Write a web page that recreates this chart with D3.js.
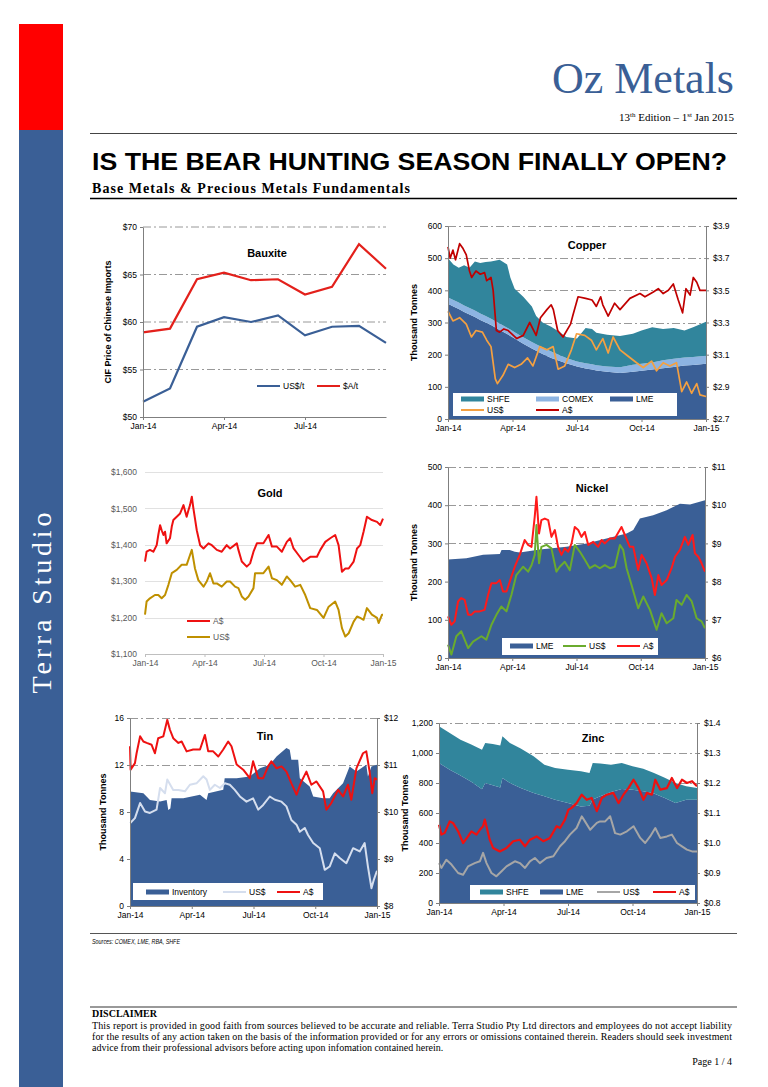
<!DOCTYPE html>
<html>
<head>
<meta charset="utf-8">
<script src="https://cdn.jsdelivr.net/npm/d3@7"></script>
<style>
body { margin: 0; background: #fff; }
svg { display: block; }
text { font-family: "Liberation Sans", Arial, sans-serif; }
.serif { font-family: "Liberation Serif", "Times New Roman", serif; }
</style>
</head>
<body>
<svg id="page" width="768" height="1087"></svg>
<script>
// ---- data ----
var xLabels = ["Jan-14", "Apr-14", "Jul-14", "Oct-14", "Jan-15"];

var bauxiteMonths = ["Jan-14","Feb-14","Mar-14","Apr-14","May-14","Jun-14","Jul-14","Aug-14","Sep-14","Oct-14"];
var bauxiteUsd = [51.6, 53.0, 59.5, 60.5, 60.0, 60.7, 58.6, 59.5, 59.6, 57.8];
var bauxiteAud = [58.9, 59.3, 64.5, 65.2, 64.4, 64.5, 62.9, 63.7, 68.2, 65.6];

// copper stocks, thousand tonnes, by month (0 = Jan-14)
var copperStockT = [0,0.25,0.5,0.75,1,1.25,1.5,1.75,2,2.4,2.75,2.9,3.1,3.5,3.9,4.1,4.4,4.8,5.2,5.5,6,6.4,6.7,6.9,7.4,8,8.6,9,9.5,10,10.5,11,11.4,12];
var copperLme = [358,350,342,333,325,317,308,300,292,277,264,258,250,234,219,212,202,190,180,173,163,157,154,151,147,143,147,150,154,158,162,166,168,172];
var copperComex = [20,20,20,20,20,20,20,20,20,20,20,20,20,20,20,20,20,20,18,17,16,16,16,16,16,18,22,22,22,25,25,25,25,25];
var copperShfe = [122,110,108,125,125,153,157,168,178,198,196,162,135,126,111,88,78,77,72,65,71,110,110,101,99,97,96,103,109,97,96,84,92,105];
var copperAud = [[0,3.77],[0.1,3.70],[0.23,3.75],[0.35,3.69],[0.54,3.79],[0.7,3.76],[0.85,3.72],[1.0,3.62],[1.1,3.58],[1.3,3.62],[1.5,3.60],[1.7,3.61],[1.8,3.56],[2.0,3.58],[2.1,3.50],[2.25,3.25],[2.4,3.24],[2.6,3.26],[2.8,3.25],[3.2,3.20],[3.5,3.22],[3.8,3.30],[4.1,3.22],[4.3,3.33],[4.6,3.38],[4.8,3.41],[4.9,3.38],[5.1,3.25],[5.35,3.21],[5.7,3.29],[5.8,3.34],[6.05,3.46],[6.4,3.45],[6.7,3.44],[6.9,3.40],[7.1,3.46],[7.2,3.41],[7.45,3.34],[7.75,3.42],[8.0,3.38],[8.46,3.45],[8.93,3.48],[9.16,3.46],[9.55,3.49],[9.78,3.51],[10.01,3.48],[10.25,3.50],[10.48,3.54],[10.71,3.44],[10.91,3.36],[11.07,3.51],[11.26,3.47],[11.41,3.58],[11.57,3.55],[11.72,3.50],[12,3.50]];
var copperUsd = [[0,3.37],[0.23,3.31],[0.54,3.33],[0.85,3.29],[1.09,3.21],[1.3,3.25],[1.6,3.24],[1.8,3.19],[2.0,3.15],[2.2,2.95],[2.3,2.92],[2.55,2.97],[2.8,3.04],[3.1,3.02],[3.4,3.04],[3.7,3.08],[3.95,3.03],[4.27,3.15],[4.6,3.13],[4.89,3.15],[5.12,3.01],[5.43,3.03],[5.74,3.13],[5.98,3.23],[6.36,3.22],[6.67,3.19],[6.9,3.13],[7.2,3.20],[7.45,3.11],[7.68,3.21],[8.0,3.13],[8.38,3.09],[8.77,3.05],[9.08,3.02],[9.47,3.06],[9.7,3.00],[10.01,3.05],[10.32,3.03],[10.63,3.05],[10.87,2.87],[11.1,2.93],[11.33,2.86],[11.57,2.92],[11.72,2.85],[12,2.84]];

var goldAud = [[0,1354],[0.08,1381],[0.25,1386],[0.42,1381],[0.59,1399],[0.67,1427],[0.76,1454],[0.84,1440],[0.93,1427],[1.01,1436],[1.09,1404],[1.26,1418],[1.35,1450],[1.43,1468],[1.6,1477],[1.77,1486],[1.94,1509],[2.1,1477],[2.19,1495],[2.27,1509],[2.36,1532],[2.44,1500],[2.52,1472],[2.61,1440],[2.78,1399],[2.95,1390],[3.2,1404],[3.37,1399],[3.62,1386],[3.87,1381],[4.12,1399],[4.29,1390],[4.63,1404],[4.71,1386],[4.88,1354],[5.13,1340],[5.3,1349],[5.47,1381],[5.64,1404],[5.97,1404],[6.23,1427],[6.4,1395],[6.65,1395],[6.9,1381],[7.15,1408],[7.32,1418],[7.49,1390],[7.74,1372],[7.99,1354],[8.33,1367],[8.67,1367],[8.84,1386],[9.09,1408],[9.34,1418],[9.59,1427],[9.76,1399],[9.93,1326],[10.1,1335],[10.27,1335],[10.52,1354],[10.69,1390],[10.85,1399],[11.02,1436],[11.19,1477],[11.44,1468],[11.7,1463],[11.86,1454],[12,1472]];
var goldUsd = [[0,1208],[0.08,1244],[0.25,1253],[0.5,1262],[0.67,1262],[0.84,1253],[1.01,1262],[1.18,1290],[1.35,1322],[1.6,1331],[1.85,1345],[2.1,1345],[2.27,1372],[2.36,1386],[2.52,1335],[2.69,1303],[2.95,1285],[3.11,1299],[3.28,1322],[3.45,1294],[3.62,1294],[3.87,1285],[4.12,1299],[4.29,1299],[4.54,1285],[4.71,1281],[4.88,1258],[5.05,1249],[5.22,1258],[5.47,1281],[5.55,1322],[5.81,1322],[5.97,1322],[6.23,1340],[6.4,1308],[6.65,1303],[6.9,1290],[7.15,1313],[7.32,1303],[7.57,1285],[7.83,1290],[8.08,1262],[8.33,1226],[8.67,1221],[9.0,1199],[9.26,1230],[9.59,1244],[9.76,1221],[9.93,1171],[10.1,1148],[10.27,1157],[10.52,1189],[10.69,1203],[10.85,1199],[11.02,1194],[11.19,1226],[11.44,1208],[11.7,1199],[11.78,1185],[11.95,1208],[12,1208]];

var nickelStockT = [0,0.86,1.64,2.42,2.5,2.88,3.12,3.35,4.29,5.53,6.47,7.4,8.34,8.65,8.96,9.58,10.21,10.83,11.3,12];
var nickelLme = [258,261,270,272,283,283,278,276,284,291,300,313,326,335,365,374,387,404,402,413];
var nickelAud = [[0,7.09],[0.16,6.87],[0.31,6.96],[0.47,7.48],[0.62,7.57],[0.78,7.52],[0.94,7.13],[1.09,7.13],[1.25,7.22],[1.48,7.22],[1.71,7.26],[1.87,7.65],[2.03,7.96],[2.26,7.96],[2.42,8.04],[2.57,7.74],[2.73,7.74],[2.96,8.13],[3.12,8.39],[3.35,8.70],[3.58,9.09],[3.74,8.96],[3.9,8.91],[4.05,9.70],[4.13,10.22],[4.25,9.26],[4.36,9.61],[4.52,9.65],[4.68,9.61],[4.83,9.17],[4.99,9.35],[5.14,8.91],[5.3,8.70],[5.45,8.87],[5.61,8.78],[5.77,9.0],[5.92,9.43],[6.08,9.35],[6.23,9.17],[6.39,9.30],[6.55,8.96],[6.78,9.04],[7.01,8.91],[7.17,9.09],[7.32,9.0],[7.56,9.13],[7.79,9.13],[8.1,9.43],[8.26,9.22],[8.49,8.91],[8.65,8.91],[8.88,8.30],[9.04,8.70],[9.27,8.48],[9.51,8.09],[9.66,7.65],[9.82,8.17],[9.97,7.91],[10.21,8.04],[10.44,8.35],[10.6,8.65],[10.83,8.83],[11.06,9.17],[11.22,8.96],[11.42,9.22],[11.53,8.74],[11.69,8.65],[11.84,8.48],[12,8.26]];
var nickelUsd = [[0,6.35],[0.16,6.09],[0.39,6.57],[0.62,6.70],[0.94,6.26],[1.17,6.43],[1.56,6.57],[1.79,6.48],[2.03,6.87],[2.26,7.13],[2.49,7.35],[2.73,7.22],[2.96,7.65],[3.19,8.17],[3.51,8.39],[3.74,8.26],[3.9,8.43],[4.05,8.70],[4.13,9.48],[4.25,8.48],[4.36,8.91],[4.6,8.96],[4.83,8.87],[5.06,8.26],[5.22,8.39],[5.45,8.52],[5.69,8.30],[5.92,8.96],[6.16,8.78],[6.39,8.57],[6.62,8.35],[6.86,8.43],[7.09,8.35],[7.32,8.43],[7.56,8.35],[7.79,8.39],[8.03,8.96],[8.18,8.83],[8.34,8.35],[8.57,7.91],[8.88,7.30],[9.12,7.61],[9.43,7.26],[9.74,6.74],[9.97,7.17],[10.21,6.91],[10.52,7.04],[10.67,7.52],[10.91,7.39],[11.14,7.65],[11.38,7.48],[11.61,7.04],[11.84,6.96],[12,6.78]];

var tinStockT = [0,0.65,0.97,1.46,1.78,1.86,1.96,2.02,2.59,3.4,3.72,3.8,4.53,4.6,5.18,5.82,6.31,6.79,7.12,7.6,7.76,7.84,8.17,8.25,8.73,8.9,9.38,9.7,9.87,10.35,10.67,11.0,11.48,11.56,11.73,12];
var tinInventory = [9.74,9.6,9.03,8.9,9.03,8.18,8.3,9.18,9.18,9.46,9.03,9.6,9.89,10.88,10.88,11.02,11.73,12.02,12.73,13.44,13.3,12.44,12.44,10.88,10.17,9.32,9.18,9.18,9.6,10.45,11.88,11.45,12.02,11.02,11.88,12.02];
var tinAud = [[0,11.40],[0.03,10.90],[0.24,11.04],[0.32,11.25],[0.49,11.61],[0.65,11.50],[0.81,11.47],[1.05,11.43],[1.21,11.25],[1.37,11.57],[1.62,11.61],[1.81,11.96],[1.94,11.75],[2.1,11.57],[2.35,11.47],[2.51,11.50],[2.75,11.29],[3.07,11.33],[3.4,11.33],[3.64,11.64],[3.8,11.29],[4.04,11.29],[4.29,11.18],[4.53,11.33],[4.77,11.50],[4.93,11.40],[5.18,11.01],[5.5,10.90],[5.82,10.72],[5.98,11.08],[6.23,10.72],[6.47,10.72],[6.71,10.97],[6.87,11.08],[7.12,10.93],[7.36,10.97],[7.6,10.86],[7.84,10.61],[8.09,10.37],[8.33,10.65],[8.57,10.86],[8.81,10.58],[9.06,10.65],[9.38,10.44],[9.54,10.05],[9.78,10.19],[10.11,10.47],[10.35,10.33],[10.59,10.58],[10.75,10.26],[11.0,10.93],[11.32,11.25],[11.48,11.29],[11.64,10.86],[11.77,10.40],[11.89,10.72],[12,10.69]];
var tinUsd = [[0,9.76],[0.24,9.87],[0.49,10.19],[0.73,10.01],[0.97,9.98],[1.29,10.05],[1.46,10.51],[1.7,10.40],[1.81,10.69],[2.1,10.47],[2.35,10.47],[2.67,10.44],[2.91,10.58],[3.23,10.61],[3.56,10.76],[3.72,10.69],[3.88,10.47],[4.12,10.58],[4.37,10.51],[4.61,10.61],[4.85,10.58],[5.09,10.47],[5.34,10.33],[5.66,10.22],[5.98,10.29],[6.23,10.05],[6.47,10.15],[6.79,10.33],[7.04,10.26],[7.36,10.22],[7.6,10.12],[7.84,9.83],[8.09,9.73],[8.25,9.58],[8.49,9.66],[8.65,9.51],[8.9,9.34],[9.22,9.23],[9.46,8.77],[9.7,8.84],[9.95,9.12],[10.19,9.02],[10.51,8.91],[10.84,9.23],[11.16,9.16],[11.4,9.34],[11.56,8.84],[11.73,8.38],[11.84,8.55],[12,8.75]];

var zincStockT = [0,0.5,1,1.5,2.0,2.15,2.5,2.85,2.95,3.3,3.8,4.4,4.9,5.4,6,6.6,7,7.15,7.5,8,8.5,9,9.5,10,10.5,11,11.5,12];
var zincLme = [933,889,850,808,758,800,785,770,833,800,767,733,711,689,667,644,648,690,711,740,760,755,745,730,700,667,689,689];
var zincShfe = [245,244,239,248,264,267,275,280,278,267,263,245,211,211,222,234,219,243,219,182,173,156,150,137,135,133,89,78];
var zincAud = [[0,1.061],[0.11,1.028],[0.26,1.033],[0.5,1.072],[0.65,1.067],[0.89,1.039],[1.12,1.0],[1.35,1.022],[1.51,1.039],[1.74,1.028],[1.9,1.044],[2.05,1.056],[2.13,1.078],[2.36,1.011],[2.52,0.983],[2.83,0.972],[3.14,0.983],[3.45,1.006],[3.76,1.011],[4.0,0.989],[4.23,1.011],[4.54,1.022],[4.85,1.006],[5.16,1.017],[5.47,1.056],[5.63,1.050],[5.86,1.078],[6.02,1.111],[6.17,1.117],[6.4,1.133],[6.64,1.161],[6.87,1.144],[7.1,1.150],[7.34,1.106],[7.57,1.150],[7.8,1.161],[8.11,1.167],[8.35,1.133],[8.58,1.161],[8.81,1.183],[9.05,1.211],[9.28,1.183],[9.51,1.144],[9.67,1.167],[9.9,1.161],[10.06,1.211],[10.29,1.178],[10.6,1.183],[10.83,1.217],[11.07,1.183],[11.3,1.211],[11.53,1.2],[11.77,1.206],[12,1.189]];
var zincUsd = [[0,0.933],[0.11,0.917],[0.34,0.944],[0.58,0.928],[0.89,0.9],[1.12,0.894],[1.35,0.922],[1.66,0.933],[1.9,0.939],[2.05,0.967],[2.21,0.933],[2.44,0.9],[2.67,0.889],[2.91,0.906],[3.14,0.922],[3.53,0.939],[3.76,0.933],[4.0,0.917],[4.23,0.939],[4.46,0.95],[4.69,0.933],[5.0,0.95],[5.32,0.956],[5.63,0.989],[5.86,1.006],[6.09,1.028],[6.4,1.05],[6.64,1.089],[6.79,1.072],[7.03,1.044],[7.34,1.067],[7.49,1.072],[7.73,1.072],[7.96,1.089],[8.19,1.033],[8.43,1.028],[8.74,1.039],[9.05,1.056],[9.36,1.017],[9.59,1.0],[9.82,1.022],[10.06,1.05],[10.29,1.017],[10.6,1.022],[10.83,1.028],[11.07,1.0],[11.3,0.989],[11.53,0.978],[11.77,0.972],[12,0.972]];

var disclaimerLines = [
  "This report is provided in good faith from sources believed to be accurate and reliable. Terra Studio Pty Ltd directors and employees do not accept liability",
  "for the results of any action taken on the basis of the information provided or for any errors or omissions contained therein. Readers should seek investment",
  "advice from their professional advisors before acting upon infomation contained herein."
];

// ---- colours ----
var navy = "#3a5f96", teal = "#31859c", lightBlue = "#8db4e2", red = "#ee1c1c";
var DASH = "8,3,2,3";

var svg = d3.select("#page");

// ---- page furniture ----
svg.append("rect").attr("x", 19).attr("y", 24).attr("width", 44).attr("height", 106).attr("fill", "#ff0000");
svg.append("rect").attr("x", 19).attr("y", 130).attr("width", 44).attr("height", 957).attr("fill", navy);
svg.append("text").attr("class", "serif")
  .attr("transform", "translate(51,603) rotate(-90)")
  .attr("text-anchor", "middle").attr("fill", "#fff").attr("font-size", 28)
  .attr("textLength", 181).attr("lengthAdjust", "spacing")
  .text("Terra Studio");

svg.append("text").attr("class", "serif").attr("x", 734).attr("y", 93)
  .attr("text-anchor", "end").attr("font-size", 44).attr("fill", navy).text("Oz Metals");

var ed = svg.append("text").attr("class", "serif").attr("x", 734).attr("y", 121)
  .attr("text-anchor", "end").attr("font-size", 11).attr("fill", "#000");
ed.append("tspan").text("13");
ed.append("tspan").attr("font-size", 7).attr("dy", -4).text("th");
ed.append("tspan").attr("dy", 4).text(" Edition \u2013 1");
ed.append("tspan").attr("font-size", 7).attr("dy", -4).text("st");
ed.append("tspan").attr("dy", 4).text(" Jan 2015");

svg.append("line").attr("x1", 90).attr("x2", 737).attr("y1", 133.5).attr("y2", 133.5).attr("stroke", "#444").attr("stroke-width", 1);
svg.append("text").attr("x", 92).attr("y", 170).attr("font-size", 23).attr("font-weight", "bold")
  .attr("textLength", 635).attr("lengthAdjust", "spacingAndGlyphs")
  .text("IS THE BEAR HUNTING SEASON FINALLY OPEN?");
svg.append("text").attr("class", "serif").attr("x", 92).attr("y", 193).attr("font-size", 14).attr("font-weight", "bold")
  .attr("textLength", 318).attr("lengthAdjust", "spacing")
  .text("Base Metals & Precious Metals Fundamentals");
svg.append("line").attr("x1", 90).attr("x2", 737).attr("y1", 198.5).attr("y2", 198.5).attr("stroke", "#000").attr("stroke-width", 1.6);

// ---- generic chart pieces ----
function makeChart(c) {
  var g = svg.append("g");
  var x = d3.scaleLinear().domain([0, 12]).range([c.l, c.r]);
  var y = d3.scaleLinear().domain(c.yDomain).range([c.b, c.t]);
  var y2 = c.y2Domain ? d3.scaleLinear().domain(c.y2Domain).range([c.b, c.t]) : null;
  // grid first, areas go over it
  g.selectAll(".grid").data(c.grid).enter().append("line")
    .attr("x1", c.l).attr("x2", c.r)
    .attr("y1", function(d) { return Math.round(y(d)) + 0.5; })
    .attr("y2", function(d) { return Math.round(y(d)) + 0.5; })
    .attr("stroke", c.gridColor || "#7f7f7f").attr("stroke-width", 0.8)
    .attr("stroke-dasharray", c.gridDash === undefined ? DASH : c.gridDash);
  return { g: g, x: x, y: y, y2: y2, c: c };
}

function stackArea(ch, times, keys, cols, rows) {
  var table = times.map(function(t, i) {
    var o = { t: t };
    keys.forEach(function(k, j) { o[k] = rows[j][i]; });
    return o;
  });
  var series = d3.stack().keys(keys)(table);
  var area = d3.area()
    .x(function(d) { return ch.x(d.data.t); })
    .y0(function(d) { return ch.y(d[0]); })
    .y1(function(d) { return ch.y(d[1]); });
  ch.g.selectAll(null).data(series).enter().append("path")
    .attr("d", area).attr("fill", function(d, i) { return cols[i]; });
}

function drawLine(ch, data, col, w, scale) {
  var ys = scale || ch.y2;
  ch.g.append("path").datum(data)
    .attr("fill", "none").attr("stroke", col).attr("stroke-width", w)
    .attr("stroke-linejoin", "round")
    .attr("d", d3.line().x(function(d) { return ch.x(d[0]); }).y(function(d) { return ys(d[1]); }));
}

function styleAxis(sel, col, lineCol) {
  sel.attr("font-family", null).attr("font-size", null);
  sel.selectAll("text").attr("font-size", 8.5).attr("fill", col);
  sel.selectAll("line").attr("stroke", lineCol);
  sel.select(".domain").attr("stroke", lineCol);
}

function drawAxes(ch) {
  var c = ch.c;
  var txt = c.textColor || "#000", ln = c.axisColor || "#7f7f7f";
  var left = ch.g.append("g").attr("transform", "translate(" + c.l + ",0)")
    .call(d3.axisLeft(ch.y).tickValues(c.yTicks).tickFormat(c.yFmt).tickSize(c.tickL === undefined ? 3 : c.tickL).tickSizeOuter(0).tickPadding(c.padL || 3));
  styleAxis(left, txt, ln);
  if (c.noLeftLine) left.select(".domain").remove();
  if (ch.y2) {
    var right = ch.g.append("g").attr("transform", "translate(" + c.r + ",0)")
      .call(d3.axisRight(ch.y2).tickValues(c.y2Ticks).tickFormat(c.y2Fmt).tickSize(3).tickSizeOuter(0).tickPadding(4));
    styleAxis(right, txt, ln);
  }
  var bottom = ch.g.append("g").attr("transform", "translate(0," + c.b + ")")
    .call(d3.axisBottom(ch.x).tickValues([0, 3, 6, 9, 12]).tickFormat(function(d) { return xLabels[d / 3]; }).tickSize(3).tickSizeOuter(0).tickPadding(3));
  styleAxis(bottom, txt, c.bottomColor || ln);
  if (c.yTitle) {
    ch.g.append("text").attr("transform", "translate(" + c.yTitleX + "," + ((c.t + c.b) / 2) + ") rotate(-90)")
      .attr("text-anchor", "middle").attr("font-size", 9).attr("font-weight", "bold").text(c.yTitle);
  }
  ch.g.append("text").attr("x", c.titleX).attr("y", c.titleY).attr("text-anchor", "middle")
    .attr("font-size", 11).attr("font-weight", "bold").text(c.title);
}

// legend: items {type: "box"|"line", col, label, x, y}
function legend(items) {
  items.forEach(function(it) {
    if (it.type === "box") {
      svg.append("rect").attr("x", it.x).attr("y", it.y - 2.5).attr("width", 23).attr("height", 5).attr("fill", it.col);
    } else {
      svg.append("line").attr("x1", it.x).attr("x2", it.x + 23).attr("y1", it.y).attr("y2", it.y)
        .attr("stroke", it.col).attr("stroke-width", 2);
    }
    svg.append("text").attr("x", it.x + 26).attr("y", it.y + 3).attr("font-size", 8.5)
      .attr("fill", it.textCol || "#000").text(it.label);
  });
}
function legendBox(x, y, w, h) {
  svg.append("rect").attr("x", x).attr("y", y).attr("width", w).attr("height", h).attr("fill", "#fff");
}

// ---- Bauxite ----
(function() {
  var l = 143, r = 386, t = 227, b = 417;
  var g = svg.append("g");
  var x = d3.scalePoint().domain(bauxiteMonths).range([l, r]);
  var y = d3.scaleLinear().domain([50, 70]).range([b, t]);
  g.selectAll(".grid").data([55, 60, 65, 70]).enter().append("line")
    .attr("x1", l).attr("x2", r).attr("y1", y).attr("y2", y)
    .attr("stroke", "#7f7f7f").attr("stroke-width", 0.8).attr("stroke-dasharray", DASH);
  var line = d3.line().x(function(d, i) { return x(bauxiteMonths[i]); }).y(function(d) { return y(d); });
  g.append("path").datum(bauxiteUsd).attr("fill", "none").attr("stroke", navy).attr("stroke-width", 2.2).attr("d", line);
  g.append("path").datum(bauxiteAud).attr("fill", "none").attr("stroke", "#e3201b").attr("stroke-width", 2.2).attr("d", line);
  var left = g.append("g").attr("transform", "translate(" + l + ",0)")
    .call(d3.axisLeft(y).tickValues([50, 55, 60, 65, 70]).tickFormat(function(d) { return "$" + d; }).tickSize(3).tickSizeOuter(0));
  styleAxis(left, "#000", "#7f7f7f");
  var bottom = g.append("g").attr("transform", "translate(0," + b + ")")
    .call(d3.axisBottom(x).tickValues(["Jan-14", "Apr-14", "Jul-14"]).tickSize(3).tickSizeOuter(0).tickPadding(3));
  styleAxis(bottom, "#000", "#7f7f7f");
  g.append("text").attr("transform", "translate(111," + ((t + b) / 2) + ") rotate(-90)")
    .attr("text-anchor", "middle").attr("font-size", 9).attr("font-weight", "bold").text("CIF Price of Chinese Imports");
  g.append("text").attr("x", 267).attr("y", 257).attr("text-anchor", "middle")
    .attr("font-size", 11).attr("font-weight", "bold").text("Bauxite");
  legend([
    { type: "line", col: navy, label: "US$/t", x: 257, y: 386 },
    { type: "line", col: "#e3201b", label: "$A/t", x: 317, y: 386 }
  ]);
})();

// ---- Copper ----
var cu = makeChart({ l: 448, r: 706, t: 226, b: 419, yDomain: [0, 600], y2Domain: [2.7, 3.9],
  grid: [100, 200, 300, 400, 500, 600], yTicks: d3.range(0, 601, 100), yFmt: d3.format(","),
  y2Ticks: [2.7, 2.9, 3.1, 3.3, 3.5, 3.7, 3.9], y2Fmt: function(d) { return "$" + d3.format(".1f")(d); },
  yTitle: "Thousand Tonnes", yTitleX: 417, title: "Copper", titleX: 587, titleY: 249 });
stackArea(cu, copperStockT, ["LME", "COMEX", "SHFE"], [navy, lightBlue, teal], [copperLme, copperComex, copperShfe]);
drawLine(cu, copperUsd, "#f4a041", 1.7);
drawLine(cu, copperAud, "#c00000", 1.7);
drawAxes(cu);
legendBox(453, 393, 224, 23);
legend([
  { type: "box", col: teal, label: "SHFE", x: 461, y: 399 },
  { type: "box", col: lightBlue, label: "COMEX", x: 536, y: 399 },
  { type: "box", col: navy, label: "LME", x: 610, y: 399 },
  { type: "line", col: "#f4a041", label: "US$", x: 461, y: 410 },
  { type: "line", col: "#c00000", label: "A$", x: 536, y: 410 }
]);

// ---- Gold ----
var au = makeChart({ l: 145, r: 383, t: 472, b: 654, yDomain: [1100, 1600],
  grid: [1200, 1300, 1400, 1500, 1600], gridColor: "#d9d9d9", gridDash: null,
  yTicks: d3.range(1100, 1601, 100), yFmt: function(d) { return "$" + d3.format(",")(d); },
  tickL: 0, padL: 8, noLeftLine: true, textColor: "#595959", axisColor: "#bfbfbf",
  title: "Gold", titleX: 270, titleY: 497 });
drawLine(au, goldUsd, "#bf9000", 2, au.y);
drawLine(au, goldAud, "#ee1111", 2, au.y);
drawAxes(au);
legend([
  { type: "line", col: "#ee1111", label: "A$", x: 187, y: 621, textCol: "#595959" },
  { type: "line", col: "#bf9000", label: "US$", x: 187, y: 637, textCol: "#595959" }
]);

// ---- Nickel ----
var ni = makeChart({ l: 448, r: 705, t: 467, b: 658, yDomain: [0, 500], y2Domain: [6, 11],
  grid: [100, 200, 300, 400, 500], yTicks: d3.range(0, 501, 100), yFmt: d3.format(","),
  y2Ticks: d3.range(6, 12, 1), y2Fmt: function(d) { return "$" + d; },
  yTitle: "Thousand Tonnes", yTitleX: 417, title: "Nickel", titleX: 592, titleY: 492 });
stackArea(ni, nickelStockT, ["LME"], [navy], [nickelLme]);
drawLine(ni, nickelUsd, "#6aab2e", 2);
drawLine(ni, nickelAud, "#ff1a1a", 2);
drawAxes(ni);
legendBox(502, 638, 156, 17);
legend([
  { type: "box", col: navy, label: "LME", x: 510, y: 646 },
  { type: "line", col: "#6aab2e", label: "US$", x: 563, y: 646 },
  { type: "line", col: "#ff1a1a", label: "A$", x: 617, y: 646 }
]);

// ---- Tin ----
var sn = makeChart({ l: 130, r: 377, t: 718, b: 906, yDomain: [0, 16], y2Domain: [8, 12],
  grid: [4, 8, 12, 16], yTicks: [0, 4, 8, 12, 16], yFmt: d3.format("d"),
  y2Ticks: [8, 9, 10, 11, 12], y2Fmt: function(d) { return "$" + d; },
  yTitle: "Thousand Tonnes", yTitleX: 106, title: "Tin", titleX: 265, titleY: 740 });
stackArea(sn, tinStockT, ["Inventory"], [navy], [tinInventory]);
drawLine(sn, tinUsd, "#d5deee", 2);
drawLine(sn, tinAud, "#ee1111", 2);
drawAxes(sn);
legendBox(133, 883, 190, 17);
legend([
  { type: "box", col: navy, label: "Inventory", x: 146, y: 892 },
  { type: "line", col: "#d5deee", label: "US$", x: 223, y: 892 },
  { type: "line", col: "#ee1111", label: "A$", x: 277, y: 892 }
]);

// ---- Zinc ----
var zn = makeChart({ l: 439, r: 697, t: 723, b: 903, yDomain: [0, 1200], y2Domain: [0.8, 1.4],
  grid: [200, 400, 600, 800, 1000, 1200], yTicks: d3.range(0, 1201, 200), yFmt: d3.format(","),
  y2Ticks: [0.8, 0.9, 1.0, 1.1, 1.2, 1.3, 1.4], y2Fmt: function(d) { return "$" + d3.format(".1f")(d); },
  yTitle: "Thousand Tonnes", yTitleX: 408, title: "Zinc", titleX: 593, titleY: 742 });
stackArea(zn, zincStockT, ["LME", "SHFE"], [navy, teal], [zincLme, zincShfe]);
drawLine(zn, zincUsd, "#a6a6a6", 2);
drawLine(zn, zincAud, "#ee1111", 2.2);
drawAxes(zn);
legendBox(470, 885, 225, 15);
legend([
  { type: "box", col: teal, label: "SHFE", x: 480, y: 892 },
  { type: "box", col: navy, label: "LME", x: 540, y: 892 },
  { type: "line", col: "#a6a6a6", label: "US$", x: 597, y: 892 },
  { type: "line", col: "#ee1111", label: "A$", x: 653, y: 892 }
]);

// ---- footer ----
svg.append("line").attr("x1", 90).attr("x2", 737).attr("y1", 933.5).attr("y2", 933.5).attr("stroke", "#555").attr("stroke-width", 1);
svg.append("text").attr("x", 92).attr("y", 944).attr("font-size", 7).attr("font-style", "italic")
  .attr("textLength", 88).attr("lengthAdjust", "spacingAndGlyphs").text("Sources: COMEX, LME, RBA, SHFE");
svg.append("line").attr("x1", 90).attr("x2", 737).attr("y1", 1007).attr("y2", 1007).attr("stroke", "#999").attr("stroke-width", 2);
svg.append("text").attr("class", "serif").attr("x", 92).attr("y", 1017).attr("font-size", 10).attr("font-weight", "bold").text("DISCLAIMER");
svg.selectAll(".disc").data(disclaimerLines).enter().append("text").attr("class", "serif")
  .attr("x", 92).attr("y", function(d, i) { return 1029 + i * 11; }).attr("font-size", 10)
  .attr("textLength", function(d, i) { return i < 2 ? 640 : null; })
  .attr("lengthAdjust", "spacing")
  .text(function(d) { return d; });
svg.append("text").attr("class", "serif").attr("x", 732).attr("y", 1065).attr("text-anchor", "end").attr("font-size", 10).text("Page 1 / 4");
</script>
</body>
</html>
